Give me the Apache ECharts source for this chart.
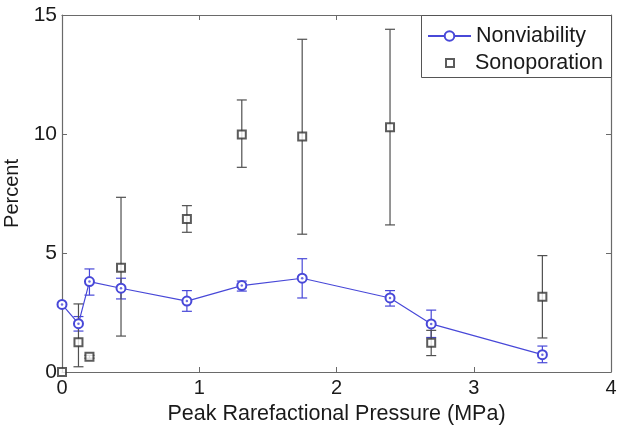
<!DOCTYPE html>
<html>
<head>
<meta charset="utf-8">
<script src="https://cdn.jsdelivr.net/npm/echarts@6/dist/echarts.min.js"></script>
<style>
html,body{margin:0;padding:0;background:#fff;}
#chart{width:621px;height:432px;}
</style>
</head>
<body>
<div id="chart"></div>
<script>
// Data
var pressure = [0, 0.12, 0.2, 0.43, 0.91, 1.31, 1.75, 2.39, 2.69, 3.5];
var nonviability = [2.84, 2.03, 3.8, 3.52, 2.98, 3.63, 3.94, 3.11, 2.02, 0.73];
var nonviabilityLow = [2.84, 1.72, 3.23, 3.07, 2.55, 3.4, 3.11, 2.77, 1.45, 0.39];
var nonviabilityHigh = [2.84, 2.33, 4.33, 3.94, 3.42, 3.82, 4.76, 3.42, 2.6, 1.09];
var sonoporation = [0, 1.25, 0.64, 4.38, 6.43, 9.98, 9.89, 10.28, 1.23, 3.16];
var sonoporationLow = [0, 0.22, 0.58, 1.51, 5.87, 8.6, 5.79, 6.18, 0.69, 1.43];
var sonoporationHigh = [0, 2.86, 0.7, 7.34, 6.99, 11.43, 13.98, 14.4, 1.75, 4.89];
var xTicks = [0, 1, 2, 3, 4];
var yTicks = [0, 5, 10, 15];

var blue = '#4848d8';
var gray = '#505050';
var font = 'Liberation Sans, Arial, sans-serif';

function pairs(xs, ys) { return xs.map(function (x, i) { return [x, ys[i]]; }); }
function triples(xs, lo, hi) { return xs.map(function (x, i) { return [x, lo[i], hi[i]]; }); }

function errorRender(color) {
  return function (params, api) {
    var x = api.value(0), lo = api.value(1), hi = api.value(2);
    if (hi - lo <= 0) return null;
    var pLo = api.coord([x, lo]);
    var pHi = api.coord([x, hi]);
    var w = 5;
    var style = { stroke: color, lineWidth: 1.2, fill: null };
    return {
      type: 'group',
      children: [
        { type: 'line', shape: { x1: pLo[0], y1: pLo[1], x2: pHi[0], y2: pHi[1] }, style: style },
        { type: 'line', shape: { x1: pLo[0] - w, y1: pLo[1], x2: pLo[0] + w, y2: pLo[1] }, style: style },
        { type: 'line', shape: { x1: pHi[0] - w, y1: pHi[1], x2: pHi[0] + w, y2: pHi[1] }, style: style }
      ]
    };
  };
}

var axisCommon = {
  axisLine: { show: true, onZero: false, lineStyle: { color: '#6a6a6a', width: 1.2 } },
  axisTick: { show: true, inside: true, length: 5, lineStyle: { color: '#6a6a6a' } },
  splitLine: { show: false }
};

var chart = echarts.init(document.getElementById('chart'));
chart.setOption({
  animation: false,
  backgroundColor: '#fff',
  textStyle: { fontFamily: font },
  grid: { left: 62, right: 10, top: 15, bottom: 60, containLabel: false, outerBoundsMode: 'none' },
  xAxis: [
    Object.assign({
      type: 'value', min: xTicks[0], max: xTicks[xTicks.length - 1], interval: 1, position: 'bottom',
      axisLabel: { fontSize: 20, color: '#1a1a1a', margin: 6, fontFamily: font },
      name: 'Peak Rarefactional Pressure (MPa)', nameLocation: 'middle', nameGap: 26,
      nameTextStyle: { fontSize: 21.5, color: '#1a1a1a', fontFamily: font }
    }, axisCommon),
    Object.assign({
      type: 'value', min: xTicks[0], max: xTicks[xTicks.length - 1], interval: 1, position: 'top',
      axisLabel: { show: false }
    }, axisCommon)
  ],
  yAxis: [
    Object.assign({
      type: 'value', min: yTicks[0], max: yTicks[yTicks.length - 1], interval: 5, position: 'left',
      axisLabel: { fontSize: 21, color: '#1a1a1a', margin: 5, fontFamily: font },
      name: 'Percent', nameLocation: 'middle', nameGap: 38,
      nameTextStyle: { fontSize: 20, color: '#1a1a1a', fontFamily: font }
    }, axisCommon),
    Object.assign({
      type: 'value', min: yTicks[0], max: yTicks[yTicks.length - 1], interval: 5, position: 'right',
      axisLabel: { show: false }
    }, axisCommon)
  ],
  graphic: [{
    type: 'rect', left: 421, top: 15, z: 100,
    shape: { width: 190, height: 62 },
    style: { fill: '#fff', stroke: '#555', lineWidth: 1 }
  }],
  legend: [
    {
      data: ['Nonviability'], left: 421, top: 25, z: 101,
      itemWidth: 43, itemHeight: 12, itemGap: 0, padding: [0, 0, 0, 6],
      textStyle: { fontSize: 21.5, color: '#1a1a1a', fontFamily: font }
    },
    {
      data: ['Sonoporation'], left: 421, top: 52, z: 101,
      itemWidth: 8, itemHeight: 8, itemGap: 0, padding: [0, 0, 0, 24],
      textStyle: { fontSize: 21.5, color: '#1a1a1a', fontFamily: font, padding: [0, 0, 0, 16] }
    }
  ],
  series: [
    {
      type: 'custom', name: 'nvErr', renderItem: errorRender(blue),
      data: triples(pressure, nonviabilityLow, nonviabilityHigh),
      encode: { x: 0, y: [1, 2] }, z: 2, silent: true
    },
    {
      type: 'custom', name: 'soErr', renderItem: errorRender(gray),
      data: triples(pressure, sonoporationLow, sonoporationHigh),
      encode: { x: 0, y: [1, 2] }, z: 2, silent: true
    },
    {
      type: 'line', name: 'Nonviability', data: pairs(pressure, nonviability),
      symbol: 'emptyCircle', symbolSize: 9, showSymbol: true,
      itemStyle: { color: blue, borderWidth: 1.2 },
      lineStyle: { color: blue, width: 1.2 }, z: 3
    },
    {
      type: 'scatter', name: 'nvDot', data: pairs(pressure, nonviability),
      symbol: 'circle', symbolSize: 2.5, itemStyle: { color: blue }, z: 4, silent: true
    },
    {
      type: 'scatter', name: 'Sonoporation', data: pairs(pressure, sonoporation),
      symbol: 'emptyRect', symbolSize: 8,
      itemStyle: { color: '#333', borderColor: '#333', borderWidth: 1.2 }, z: 3
    }
  ]
});
</script>
</body>
</html>
